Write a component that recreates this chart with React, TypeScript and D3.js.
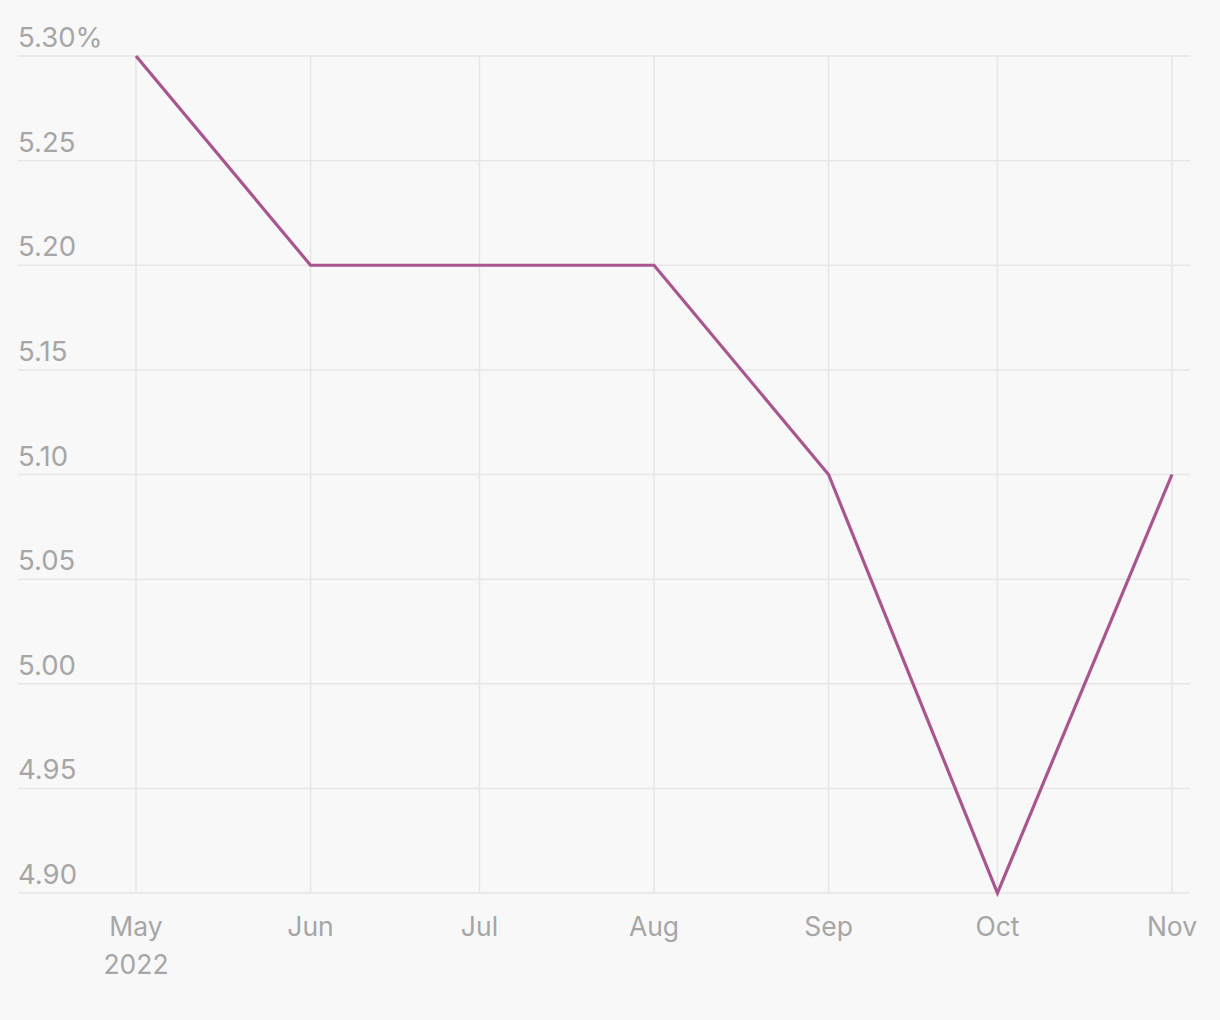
import React from "react";
import * as d3 from "d3";

const dates = ["2022-05-01", "2022-06-01", "2022-07-01", "2022-08-01", "2022-09-01", "2022-10-01", "2022-11-01"];
const values = [5.3, 5.2, 5.2, 5.2, 5.1, 4.9, 5.1];
const yTicks = [4.9, 4.95, 5.0, 5.05, 5.1, 5.15, 5.2, 5.25, 5.3];

const W = 1220, H = 1020;
const parse = d3.timeParse("%Y-%m-%d");

export default function App() {
  const ds = dates.map((d) => parse(d) as Date);
  const x = d3.scaleTime().domain([ds[0], ds[ds.length - 1]]).range([136, 1172]);
  const y = d3.scaleLinear().domain([4.9, 5.3]).range([893, 56]);
  const line = d3.line<number>().x((_, i) => x(ds[i])).y((v) => y(v));
  const font = "Inter, 'Liberation Sans', sans-serif";
  const grey = "#a6a6a6";
  return (
    <svg width={W} height={H} style={{ position: "absolute", left: 0, top: 0, background: "#f8f8f8" }}>
      <rect width={W} height={H} fill="#f8f8f8" />
      {yTicks.map((t) => (
        <line key={"h" + t} x1={18} x2={1190} y1={y(t)} y2={y(t)} stroke="#e6e6e6" strokeWidth={1.5} />
      ))}
      {ds.map((d, i) => (
        <line key={"v" + i} x1={x(d)} x2={x(d)} y1={56} y2={893} stroke="#e6e6e6" strokeWidth={1.5} />
      ))}
      {yTicks.map((t, i) => (
        <text key={"yl" + t} x={18} y={y(t) - 9} fill={grey} fontFamily={font} fontSize={27.5}>
          {d3.format(".2f")(t) + (i === yTicks.length - 1 ? "%" : "")}
        </text>
      ))}
      {ds.map((d, i) => (
        <text key={"xl" + i} x={x(d)} y={936} fill={grey} fontFamily={font} fontSize={26.5} textAnchor="middle">
          {d3.timeFormat("%b")(d)}
        </text>
      ))}
      <text x={x(ds[0])} y={974} fill={grey} fontFamily={font} fontSize={26.5} textAnchor="middle">
        {d3.timeFormat("%Y")(ds[0])}
      </text>
      <path d={line(values) || ""} fill="none" stroke="#a9558f" strokeWidth={3.2} strokeLinejoin="miter" />
    </svg>
  );
}
